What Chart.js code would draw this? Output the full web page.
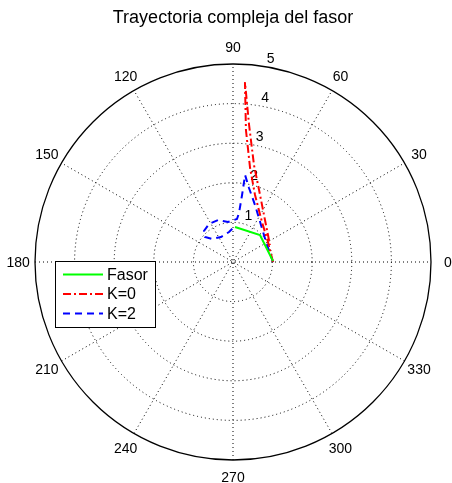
<!DOCTYPE html>
<html><head><meta charset="utf-8">
<script src="https://cdn.jsdelivr.net/npm/chart.js@4.4.1/dist/chart.umd.min.js"></script>
<style>html,body{margin:0;padding:0;background:#fff}#wrap{width:452px;height:483px;position:relative}</style>
</head><body><div id="wrap"><canvas id="c"></canvas></div>
<script>
// ---- data (polar: angle in degrees, radius) ----
const chartTitle = 'Trayectoria compleja del fasor';
const seriesNames = ['Fasor', 'K=0', 'K=2'];

const fasorTheta = [1.4, 45.0, 86.7];
const fasorR     = [1.01, 0.964, 0.885];

const k0Theta = [0, 29.7, 54.1, 71.8, 79.7, 84.4, 86.2, 83.3, 77.8, 70.1, 52.7, 24.7];
const k0R     = [1.01, 1.018, 1.248, 1.781, 2.412, 3.349, 4.556, 3.483, 2.506, 1.933, 1.333, 1.028];

const k2Theta = [0, 31.2, 52.9, 68.9, 77.8, 82.1, 82.3, 83.0, 84.7, 97.1, 109.7, 122.3, 133.1, 138.2, 132.4, 115.6, 97.6, 86.8];
const k2R     = [1.01, 0.975, 1.172, 1.543, 1.912, 2.218, 1.707, 1.247, 1.090, 1.018, 1.126, 1.135, 1.072, 0.948, 0.786, 0.700, 0.764, 0.911];

const angleTicks  = [0, 30, 60, 90, 120, 150, 180, 210, 240, 270, 300, 330];
const radialTicks = [1, 2, 3, 4, 5];

// ---- helpers ----
const FONT = '"Liberation Sans", Arial, Helvetica, sans-serif';
function toXY(thetas, rs) {
  return thetas.map((t, i) => ({ x: rs[i] * Math.cos(t * Math.PI / 180), y: rs[i] * Math.sin(t * Math.PI / 180) }));
}
const rMax = radialTicks[radialTicks.length - 1];

const polarGrid = {
  id: 'polarGrid',
  beforeDatasetsDraw(chart) {
    const { ctx, scales: { x, y } } = chart;
    const cx = x.getPixelForValue(0), cy = y.getPixelForValue(0);
    const u = x.getPixelForValue(1) - cx;
    const R = rMax * u;
    ctx.save();
    ctx.fillStyle = '#fff';
    ctx.beginPath(); ctx.arc(cx, cy, R, 0, 2 * Math.PI); ctx.fill();
    ctx.strokeStyle = '#000';
    ctx.lineWidth = 1;
    ctx.setLineDash([1, 3]);
    radialTicks.slice(0, -1).forEach(r => {
      ctx.beginPath(); ctx.arc(cx, cy, r * u, 0, 2 * Math.PI); ctx.stroke();
    });
    angleTicks.filter(a => a < 180).forEach(a => {
      const c = Math.cos(a * Math.PI / 180), s = Math.sin(a * Math.PI / 180);
      ctx.beginPath();
      ctx.moveTo(cx - R * c, cy + R * s);
      ctx.lineTo(cx + R * c, cy - R * s);
      ctx.stroke();
    });
    ctx.setLineDash([]);
    ctx.lineWidth = 1.3;
    ctx.beginPath(); ctx.arc(cx, cy, R, 0, 2 * Math.PI); ctx.stroke();
    // angle labels
    ctx.fillStyle = '#000';
    ctx.font = '14px ' + FONT;
    ctx.textAlign = 'center'; ctx.textBaseline = 'middle';
    const LR = R * 1.085;
    angleTicks.forEach(a => {
      const c = Math.cos(a * Math.PI / 180), s = Math.sin(a * Math.PI / 180);
      ctx.fillText(String(a), cx + LR * c, cy - LR * s + 1);
    });
    // radial labels
    const ra = 82 * Math.PI / 180;
    radialTicks.forEach(r => {
      ctx.fillText(String(r), cx + r * u * Math.cos(ra) + 10, cy - r * u * Math.sin(ra) - 7);
    });
    ctx.restore();
  },
  afterDatasetsDraw(chart) {
    const { ctx } = chart;
    const bx = 55, by = 261, bw = 100, bh = 66;
    ctx.save();
    ctx.fillStyle = '#fff';
    ctx.fillRect(bx, by, bw, bh);
    ctx.strokeStyle = '#000'; ctx.lineWidth = 1; ctx.setLineDash([]);
    ctx.strokeRect(bx + 0.5, by + 0.5, bw, bh);
    ctx.font = '16px ' + FONT;
    ctx.textAlign = 'left'; ctx.textBaseline = 'middle';
    chart.data.datasets.forEach((ds, i) => {
      const yy = by + 13.5 + i * 19.5;
      ctx.strokeStyle = ds.borderColor; ctx.lineWidth = ds.borderWidth;
      ctx.setLineDash(ds.borderDash || []);
      ctx.beginPath(); ctx.moveTo(bx + 8, yy); ctx.lineTo(bx + 48, yy); ctx.stroke();
      ctx.setLineDash([]);
      ctx.fillStyle = '#000';
      ctx.fillText(ds.label, bx + 52, yy + 1);
    });
    ctx.restore();
  }
};

new Chart(document.getElementById('c'), {
  type: 'scatter',
  data: {
    datasets: [
      { label: seriesNames[0], data: toXY(fasorTheta, fasorR), borderColor: '#00ff00', borderWidth: 2, showLine: true, pointRadius: 0, borderDash: [] },
      { label: seriesNames[1], data: toXY(k0Theta, k0R), borderColor: '#ff0000', borderWidth: 2, showLine: true, pointRadius: 0, borderDash: [8, 3, 2, 3] },
      { label: seriesNames[2], data: toXY(k2Theta, k2R), borderColor: '#0000ff', borderWidth: 2, showLine: true, pointRadius: 0, borderDash: [7, 5] }
    ]
  },
  options: {
    responsive: true, maintainAspectRatio: false, animation: false,
    devicePixelRatio: 1,
    layout: { padding: { left: 35, right: 21, top: 0, bottom: 23 } },
    scales: {
      x: { type: 'linear', min: -rMax, max: rMax, display: false },
      y: { type: 'linear', min: -rMax, max: rMax, display: false }
    },
    plugins: {
      legend: { display: false },
      tooltip: { enabled: false },
      title: { display: true, text: chartTitle, color: '#000', font: { family: FONT, size: 18, weight: 'normal' }, padding: { top: 7.2, bottom: 35.2 } }
    }
  },
  plugins: [polarGrid]
});
</script>
</body></html>
